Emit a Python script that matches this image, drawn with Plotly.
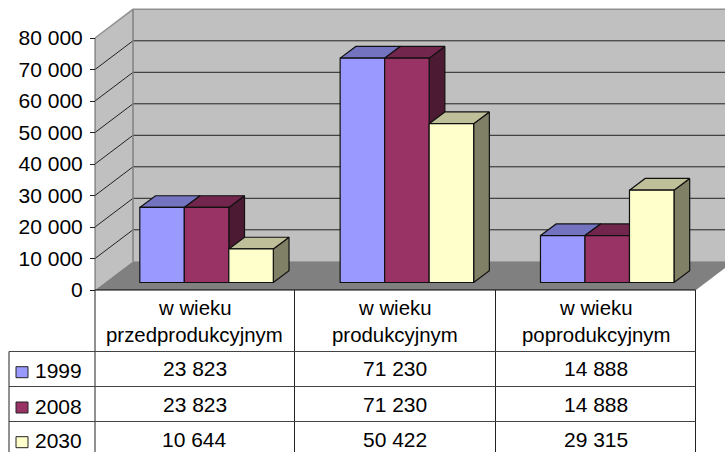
import plotly.graph_objects as go

categories = ["w wieku<br>przedprodukcyjnym", "w wieku<br>produkcyjnym", "w wieku<br>poprodukcyjnym"]
series_names = ["1999", "2008", "2030"]
values_1999 = [23823, 71230, 14888]
values_2008 = [23823, 71230, 14888]
values_2030 = [10644, 50422, 29315]
y_ticks = [0, 10000, 20000, 30000, 40000, 50000, 60000, 70000, 80000]

W, H = 725, 452
FONT = "Liberation Sans, Arial, sans-serif"
series = [values_1999, values_2008, values_2030]
front = ["#9999FF", "#993366", "#FFFFCC"]
top = ["#7373BF", "#73264D", "#BFBF99"]
side = ["#4D4D80", "#4D1A33", "#808066"]


def space(v):
    return f"{v:,}".replace(",", " ")


# Scales: one category is 200.33 px, 80 000 units are 252 px
CAT = 200.33
UNIT = 80000 / 252
x_range = [-0.5 - 95 / CAT, -0.5 + (W - 95) / CAT]
y_range = [-(H - 290) * UNIT, 80000 + 38 * UNIT]
x_left, x_right = -0.5, 2.5
wall_dx, wall_dy = 38 / CAT, 28.7 * UNIT
bar_dx, bar_dy = 15.7 / CAT, 11.7 * UNIT
bar_w = 44.5 / CAT
bar_shift = 11.4 / CAT
bar_base = 7.5 * UNIT

fig = go.Figure()


def poly(xs, ys, fill, line="rgba(0,0,0,0)", width=1):
    fig.add_trace(go.Scatter(x=list(xs) + [xs[0]], y=list(ys) + [ys[0]], mode="lines", fill="toself",
                             fillcolor=fill, line=dict(color=line, width=width),
                             hoverinfo="skip", showlegend=False))


def line(xs, ys, color, width=1):
    fig.add_trace(go.Scatter(x=xs, y=ys, mode="lines", line=dict(color=color, width=width),
                             hoverinfo="skip", showlegend=False))


ymax = y_ticks[-1]
# walls and floor
poly([x_left, x_left + wall_dx, x_left + wall_dx, x_left],
     [0, wall_dy, ymax + wall_dy, ymax], "#C0C0C0")
poly([x_left + wall_dx, x_right + wall_dx + 1, x_right + wall_dx + 1, x_left + wall_dx],
     [wall_dy, wall_dy, ymax + wall_dy, ymax + wall_dy], "#C0C0C0")
poly([x_left, x_right, x_right + wall_dx, x_left + wall_dx], [0, 0, wall_dy, wall_dy], "#808080")
for t in y_ticks[1:-1]:
    line([x_left, x_left + wall_dx, x_right + wall_dx + 1], [t, t + wall_dy, t + wall_dy], "#222222", 1)
line([x_left, x_left + wall_dx, x_right + wall_dx + 1],
     [ymax, ymax + wall_dy, ymax + wall_dy], "#909090", 1.5)
line([x_left + wall_dx, x_left + wall_dx], [wall_dy, ymax + wall_dy], "#808080", 1.5)
line([x_left, x_left], [0, ymax], "#606060", 1)

# tops and sides of the bars, back to front, left to right
for c in range(3):
    for s in range(3):
        x0 = c + bar_shift + (s - 1.5) * bar_w
        x1 = x0 + bar_w
        yt = bar_base + series[s][c]
        poly([x1, x1 + bar_dx, x1 + bar_dx, x1],
             [bar_base, bar_base + bar_dy, yt + bar_dy, yt], side[s], "#111111", 1.2)
        poly([x0, x1, x1 + bar_dx, x0 + bar_dx],
             [yt, yt, yt + bar_dy, yt + bar_dy], top[s], "#111111", 1.2)

# bar fronts sit on an overlay so they cover the sides of the bars to their left
for s, name in enumerate(series_names):
    fig.add_trace(go.Bar(x=[0, 1, 2], y=series[s], base=bar_base, name=name, width=bar_w,
                         offset=bar_shift + (s - 1.5) * bar_w,
                         marker=dict(color=front[s], line=dict(color="#111111", width=1.2)),
                         xaxis="x2", yaxis="y2", showlegend=False))


def px(x):
    return x / W


def py(y):
    return 1 - y / H


shapes = []
annots = []
TL = "#333333"


def seg(x0, y0, x1, y1, color=TL, width=1):
    shapes.append(dict(type="line", xref="paper", yref="paper", x0=px(x0), x1=px(x1), y0=py(y0), y1=py(y1),
                       line=dict(color=color, width=width)))


def text(x, y, s, size=21, anchor="center"):
    annots.append(dict(xref="paper", yref="paper", x=px(x), y=py(y), text=s, showarrow=False,
                       xanchor=anchor, yanchor="middle", font=dict(family=FONT, size=size, color="#000000"),
                       align="center"))


seg(95, 290, 695.5, 290, "#000000")
for vx in (95, 294.5, 495.5, 695.5):
    seg(vx, 290, vx, H, "#222222")
seg(9, 351.5, 9, H, "#222222")
for hy in (351.5, 386.5, 421.5):
    seg(9, hy, 695.5, hy, "#444444")

col_x = [194.7, 395, 595.5]
val_y = [368.7, 404, 439]
leg_y = [370.7, 406, 440.7]
for c, cx in enumerate(col_x):
    a, b = categories[c].split("<br>")
    text(cx, 308, a, 20.4)
    text(cx, 335, b, 20.4)
    for s in range(3):
        text(cx, val_y[s], space(series[s][c]))
for s, name in enumerate(series_names):
    text(59, leg_y[s], name)
    shapes.append(dict(type="rect", xref="paper", yref="paper", x0=px(16), x1=px(28),
                       y0=py(leg_y[s] + 1.5 + 5.5), y1=py(leg_y[s] + 1.5 - 5.5),
                       fillcolor=front[s], line=dict(color="#222222", width=1)))

fig.update_layout(
    width=W, height=H, margin=dict(l=0, r=0, t=0, b=0),
    paper_bgcolor="#FFFFFF", plot_bgcolor="#FFFFFF",
    barmode="overlay", shapes=shapes, annotations=annots, showlegend=False,
    xaxis=dict(range=x_range, domain=[0, 1], visible=False, showgrid=False, zeroline=False),
    yaxis=dict(range=y_range, domain=[0, 1], anchor="free", position=95 / W, showgrid=False, zeroline=False,
               showline=False, tickvals=y_ticks, ticktext=[space(t) for t in y_ticks],
               ticks="outside", ticklen=5, tickcolor="#222222", tickwidth=1,
               ticklabelstandoff=3,
               tickfont=dict(family=FONT, size=21, color="#000000")),
    xaxis2=dict(range=x_range, domain=[0, 1], visible=False, overlaying="x", anchor="y2"),
    yaxis2=dict(range=y_range, domain=[0, 1], visible=False, overlaying="y", anchor="x2"),
)

fig.write_html("out.html", config=dict(displayModeBar=False),
               post_script="document.body.style.margin='0';document.body.style.overflow='hidden';")
